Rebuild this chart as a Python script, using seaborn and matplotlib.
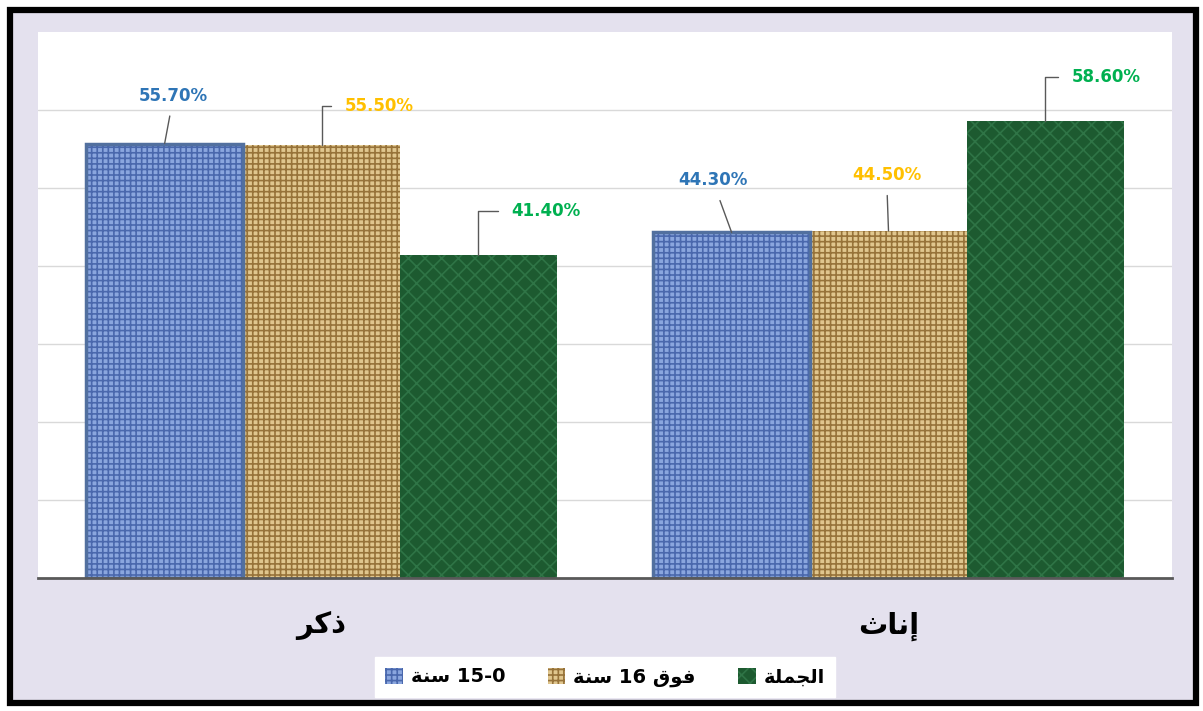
import matplotlib
matplotlib.use("Agg")
import matplotlib.pyplot as plt
from matplotlib.patches import Rectangle
import seaborn as sns
import pandas as pd

# ---- data ----
categories = ["ذكر", "إناث"]
# Arabic shaped in visual (left-to-right) order for display
category_labels = ["\uFEAE\uFEDB\uFEAB", "\uFE99\uFE8E\uFEE7\uFE87"]
series = ["0-15 سنة", "فوق 16 سنة", "الجملة"]
series_labels = [
    "\uFE94\uFEE8\uFEB3 15-0",
    "\uFE94\uFEE8\uFEB3 16 \uFED5\uFEEE\uFED3",
    "\uFE94\uFEE0\uFEE4\uFEA0\uFEDF\uFE8D",
]
values_0_15 = [55.7, 44.3]
values_16_plus = [55.5, 44.5]
values_total = [41.4, 58.6]

# ---- styles ----
face_colors = ["#8aa6de", "#e0c68e", "#1d5a30"]
hatch_colors = ["#4a68ad", "#97733a", "#2f7446"]
hatches = ["+++", "+++", "xx"]
label_colors = ["#2e75b6", "#ffc000", "#00b050"]
# label offsets in pixels (dx, dy), alignment, leader type
label_layout = [
    [((9, 48), "center", "straight"), ((-19, 52), "center", "straight")],
    [((23, 39), "left", "angle"), ((-2, 56), "center", "straight")],
    [((33, 44), "left", "angle"), ((26, 44), "left", "angle")],
]

rows = []
vals = [values_0_15, values_16_plus, values_total]
for s, v in zip(series, vals):
    for c, x in zip(categories, v):
        rows.append({"cat": c, "series": s, "val": x})
df = pd.DataFrame(rows)

sns.set_theme(style="white")
plt.rcParams["font.family"] = ["DejaVu Sans"]
plt.rcParams["hatch.linewidth"] = 1.2

W, H = 1203, 711
fig = plt.figure(figsize=(W / 100, H / 100), dpi=100)
fig.patch.set_facecolor("white")
bg = Rectangle((10 / W, 8 / H), 1186 / W, 693 / H, transform=fig.transFigure,
               facecolor="#e4e1ee", edgecolor="black", linewidth=4.5, zorder=-5)
fig.patches.append(bg)

ax = fig.add_axes([38 / W, 1 - 578 / H, (1172 - 38) / W, (578 - 32) / H])
ax.set_zorder(2)
ax.set_facecolor("white")

sns.barplot(data=df, x="cat", y="val", hue="series", order=categories, hue_order=series,
            palette=face_colors, saturation=1, width=0.83, ax=ax, legend=False, zorder=3)

ax.set_ylim(0, 70)
ax.set_xlim(-0.5, 1.5)
ax.set_yticks([10, 20, 30, 40, 50, 60])
ax.yaxis.grid(True, color="#d9d9d9", linewidth=1.0, zorder=0)
ax.set_axisbelow(True)
ax.set_yticklabels([])
ax.tick_params(axis="y", length=0)
for sp in ["top", "right", "left"]:
    ax.spines[sp].set_visible(False)
ax.spines["bottom"].set_color("#595959")
ax.spines["bottom"].set_linewidth(2)
ax.spines["bottom"].set_zorder(5)
ax.set_xlabel("")
ax.set_ylabel("")
ax.set_xticks([0, 1])
ax.set_xticklabels(category_labels, fontsize=21, fontweight="bold", color="black")
ax.tick_params(axis="x", length=0, pad=24)

for i, cont in enumerate(ax.containers):
    for j, p in enumerate(cont.patches):
        p.set_hatch(hatches[i])
        p.set_edgecolor(hatch_colors[i])
        p.set_linewidth(0)
        if i == 0:
            b = p.get_bbox()
            ax.add_patch(Rectangle((b.x0, b.y0), b.width, b.height, fill=False,
                                   edgecolor="#52709f", linewidth=2.5, zorder=4))
        (dx, dy), ha, kind = label_layout[i][j]
        xc = p.get_x() + p.get_width() / 2
        top = p.get_height()
        val = vals[i][j]
        props = dict(arrowstyle="-", color="#595959", lw=1, shrinkB=0)
        if kind == "straight":
            props["shrinkA"] = 6
        else:
            props["shrinkA"] = 7
            props["connectionstyle"] = "angle,angleA=0,angleB=90,rad=0"
        ax.annotate(f"{val:.2f}%", xy=(xc, top), xytext=(dx * 0.72, dy * 0.72),
                    textcoords="offset points", ha=ha, va="center",
                    fontsize=12, fontweight="bold", color=label_colors[i],
                    family=["DejaVu Sans"], zorder=6, arrowprops=props)

handles = [ax.containers[i].patches[0] for i in range(3)]
leg = fig.legend(handles, series_labels, loc="center", ncol=3,
                 bbox_to_anchor=(605 / W, 1 - 677 / H), bbox_transform=fig.transFigure,
                 frameon=True, facecolor="white", edgecolor="white", framealpha=1,
                 prop=dict(size=14, weight="bold"), labelcolor="black",
                 handlelength=0.9, handleheight=0.9,
                 handletextpad=0.4, columnspacing=2.2, borderpad=0.55, fancybox=False)
leg.set_zorder(10)

fig.savefig("out.png", dpi=100)
